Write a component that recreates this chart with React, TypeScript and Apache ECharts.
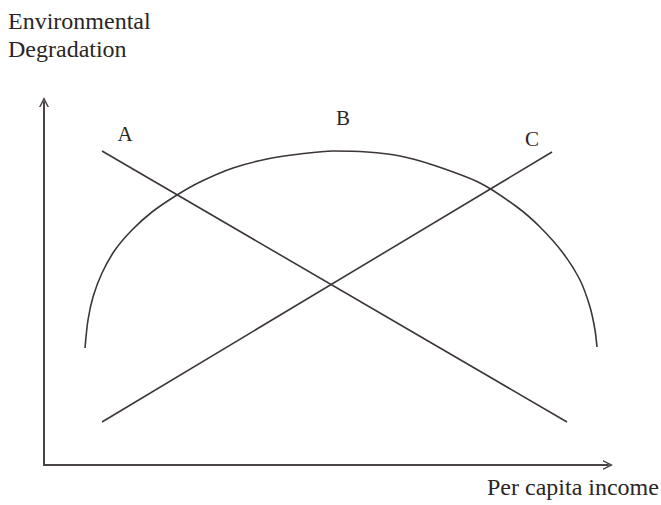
import React, { useEffect, useRef } from "react";
import * as echarts from "echarts";

// Data (units: px offset from the axis origin)
const lineA: [number, number][] = [
  [58, 314],
  [523, 43],
];
const lineC: [number, number][] = [
  [58, 43],
  [508, 313],
];
const curveB: [number, number][] = [
  [41, 117],
  [44, 145],
  [49, 168],
  [58, 192],
  [71, 215],
  [88, 235],
  [108, 253],
  [133, 270],
  [156, 283],
  [189, 297],
  [223, 306],
  [256, 311],
  [289, 314],
  [323, 313],
  [356, 309],
  [389, 300],
  [436, 282],
  [473, 258],
  [496, 238],
  [519, 212],
  [536, 185],
  [546, 158],
  [551, 135],
  [553, 118],
];
const curveLabels = ["A", "B", "C"];
const yAxisTitle = ["Environmental", "Degradation"];
const xAxisTitle = "Per capita income";

const FONT = "'Liberation Serif', 'DejaVu Serif', serif";
const INK = "#2b2626";
const LINE = "#3d3636";
const ARROW = "path://M0,10 L5,0 L10,10 L8.4,10 L5,3.2 L1.6,10 Z";

export default function App() {
  const ref = useRef<HTMLDivElement>(null);
  useEffect(() => {
    if (!ref.current) return;
    const chart = echarts.init(ref.current, undefined, { renderer: "svg" });
    const axisLine = {
      show: true,
      symbol: ["none", ARROW],
      symbolSize: [12, 10],
      lineStyle: { color: "#4a4343", width: 2 },
    };
    const lineSeries = (name: string, data: [number, number][], smooth: number | boolean) => ({
      name,
      type: "line",
      data,
      smooth,
      showSymbol: false,
      symbol: "none",
      lineStyle: { color: LINE, width: 1.6 },
      silent: true,
    });
    chart.setOption({
      animation: false,
      backgroundColor: "#ffffff",
      grid: { left: 44, right: 53, top: 102, bottom: 40 },
      xAxis: {
        type: "value",
        min: 0,
        max: 564,
        axisLine,
        axisTick: { show: false },
        axisLabel: { show: false },
        splitLine: { show: false },
      },
      yAxis: {
        type: "value",
        min: 0,
        max: 363,
        axisLine,
        axisTick: { show: false },
        axisLabel: { show: false },
        splitLine: { show: false },
      },
      series: [
        lineSeries("A", lineA, false),
        lineSeries("B", curveB, 0.3),
        lineSeries("C", lineC, false),
      ],
      graphic: [
        {
          type: "text",
          left: 8,
          top: 7,
          style: {
            text: yAxisTitle.join("\n"),
            font: `24px ${FONT}`,
            lineHeight: 28,
            fill: INK,
          },
        },
        {
          type: "text",
          x: 487,
          y: 487,
          style: {
            text: xAxisTitle,
            font: `24px ${FONT}`,
            fill: INK,
            verticalAlign: "middle",
          },
        },
        {
          type: "text",
          x: 125,
          y: 134,
          style: {
            text: curveLabels[0],
            font: `21px ${FONT}`,
            fill: INK,
            align: "center",
            verticalAlign: "middle",
          },
        },
        {
          type: "text",
          x: 343,
          y: 118,
          style: {
            text: curveLabels[1],
            font: `21px ${FONT}`,
            fill: INK,
            align: "center",
            verticalAlign: "middle",
          },
        },
        {
          type: "text",
          x: 532,
          y: 139,
          style: {
            text: curveLabels[2],
            font: `21px ${FONT}`,
            fill: INK,
            align: "center",
            verticalAlign: "middle",
          },
        },
      ],
    });
    return () => chart.dispose();
  }, []);
  return (
    <div
      ref={ref}
      style={{ position: "fixed", left: 0, top: 0, width: 661, height: 505 }}
    />
  );
}
